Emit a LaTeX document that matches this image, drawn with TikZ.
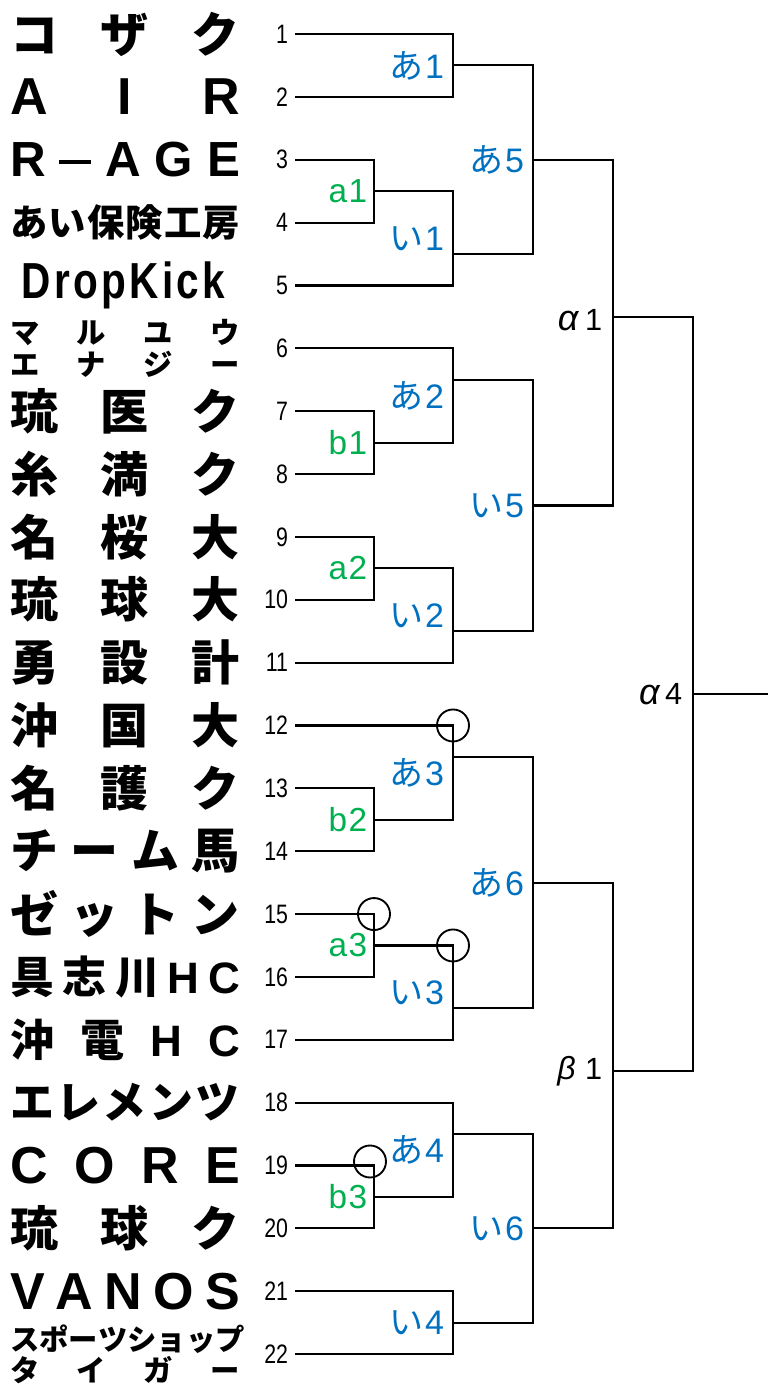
\documentclass[tikz,border=0pt]{standalone}
\usepackage{fontspec}
\setmainfont{Liberation Sans}
\newfontfamily\jp{Noto Sans CJK JP}
\newfontfamily\jpheavy{Noto Sans CJK JP Black}
\newfontfamily\narrow[FakeStretch=0.8]{Liberation Sans}
\usetikzlibrary{calc}
\definecolor{matchblue}{RGB}{0,112,192}
\definecolor{matchgreen}{RGB}{0,176,80}
\newcommand\lat{\normalfont\bfseries}
\newcommand\rowy[1]{34+(#1-1)*62.86}
\newcommand\team[3]{\node[teamname] (name#1) at (125,{\rowy{#1}}) {\fontsize{#2}{#2}\selectfont\makebox[172.5pt][s]{#3}};}
\newcommand\teamtwo[4]{\node[teamname, align=center, font=\jpheavy\fontsize{#2}{23.5pt}\selectfont] (name#1) at (125,{\rowy{#1}}) {\makebox[172.5pt][s]{#3}\\\makebox[172.5pt][s]{#4}};}
\newcommand\entry[1]{\coordinate (t#1) at (295,{\rowy{#1}}); \node[seed] (n#1) at (t#1) {#1};}
\newcommand\blab[2]{{\jp #1}\kern1pt#2}
\newcommand\game[8]{\coordinate (#1) at (#2,{\rowy{#3}}); \node[#5] (#1-lab) at (#2,{\rowy{#4}}) {#6}; \draw[bline] (#7) -| (#1) |- (#8);}

\begin{document}
\begin{tikzpicture}[x=0.75pt, y=-0.75pt,
  bline/.style={line width=1.6pt},
  seed/.style={anchor=east, inner sep=0pt, xshift=-5pt, font=\narrow\fontsize{20pt}{20pt}\selectfont},
  teamname/.style={inner sep=0pt, font=\jpheavy},
  bluelab/.style={anchor=east, inner sep=0pt, xshift=-6.5pt, text=matchblue, font=\fontsize{25.5pt}{25.5pt}\selectfont},
  greenlab/.style={anchor=east, inner sep=0pt, xshift=-5pt, text=matchgreen, font=\fontsize{25pt}{25pt}\selectfont},
  greeklab/.style={anchor=east, inner sep=0pt, xshift=-8pt, font=\fontsize{23pt}{23pt}\selectfont},
  ring/.style={circle, draw, line width=1.4pt, minimum size=24pt, inner sep=0pt}]
\useasboundingbox (0,0) rectangle (768,1384);

% team names
\team{1}{36pt}{コ\hfill ザ\hfill ク}
\team{2}{39pt}{\lat A\hfill I\hfill R}
\team{3}{37pt}{\lat R\hfill \rule[9.5pt]{24pt}{3.2pt}\hfill A\hfill G\hfill E}
\team{4}{28pt}{あ\hfill い\hfill 保\hfill 険\hfill 工\hfill 房}
\team{5}{38pt}{\narrow\bfseries\hspace*{9pt}D\hfill r\hfill o\hfill p\hfill K\hfill i\hfill c\hfill k\hspace*{11pt}}
\teamtwo{6}{22pt}{マ\hfill ル\hfill ユ\hfill ウ}{エ\hfill ナ\hfill ジ\hfill ー}
\team{7}{36pt}{琉\hfill 医\hfill ク}
\team{8}{36pt}{糸\hfill 満\hfill ク}
\team{9}{36pt}{名\hfill 桜\hfill 大}
\team{10}{36pt}{琉\hfill 球\hfill 大}
\team{11}{36pt}{勇\hfill 設\hfill 計}
\team{12}{36pt}{沖\hfill 国\hfill 大}
\team{13}{36pt}{名\hfill 護\hfill ク}
\team{14}{36pt}{チ\hfill ー\hfill ム\hfill 馬}
\team{15}{36pt}{ゼ\hfill ッ\hfill ト\hfill ン}
\team{16}{33pt}{具\hfill 志\hfill 川\hfill {\lat H}\hfill {\lat C}}
\team{17}{33pt}{沖\hfill 電\hfill {\lat H}\hfill {\lat C}}
\team{18}{33pt}{エ\hfill レ\hfill メ\hfill ン\hfill ツ}
\team{19}{39pt}{\lat C\hfill O\hfill R\hfill E}
\team{20}{36pt}{琉\hfill 球\hfill ク}
\team{21}{39pt}{\lat V\hfill A\hfill N\hfill O\hfill S}
\teamtwo{22}{22pt}{ス\hfill ポ\hfill ー\hfill ツ\hfill シ\hfill ョ\hfill ッ\hfill プ}{タ\hfill イ\hfill ガ\hfill ー}

% seed numbers and line starts
\foreach \i in {1,...,22} {\entry{\i}}

% first round
\game{a1}{374}{3.5}{3.5}{greenlab}{a\kern1pt 1}{t3}{t4}
\game{b1}{374}{7.5}{7.5}{greenlab}{b\kern1pt 1}{t7}{t8}
\game{a2}{374}{9.5}{9.5}{greenlab}{a\kern1pt 2}{t9}{t10}
\game{b2}{374}{13.5}{13.5}{greenlab}{b\kern1pt 2}{t13}{t14}
\game{a3}{374}{15.5}{15.5}{greenlab}{a\kern1pt 3}{t15}{t16}
\game{b3}{374}{19.5}{19.5}{greenlab}{b\kern1pt 3}{t19}{t20}
% second round
\game{A1}{453}{1.5}{1.5}{bluelab}{\blab{あ}{1}}{t1}{t2}
\game{I1}{453}{4.5}{4.25}{bluelab}{\blab{い}{1}}{a1}{t5}
\game{A2}{453}{6.5}{6.75}{bluelab}{\blab{あ}{2}}{t6}{b1}
\game{I2}{453}{10.5}{10.25}{bluelab}{\blab{い}{2}}{a2}{t11}
\game{A3}{453}{12.5}{12.75}{bluelab}{\blab{あ}{3}}{t12}{b2}
\game{I3}{453}{16.5}{16.25}{bluelab}{\blab{い}{3}}{a3}{t17}
\game{A4}{453}{18.5}{18.75}{bluelab}{\blab{あ}{4}}{t18}{b3}
\game{I4}{453}{21.5}{21.5}{bluelab}{\blab{い}{4}}{t21}{t22}
% third round
\game{A5}{533}{3}{3}{bluelab}{\blab{あ}{5}}{A1}{I1}
\game{I5}{533}{8.5}{8.5}{bluelab}{\blab{い}{5}}{A2}{I2}
\game{A6}{533}{14.5}{14.5}{bluelab}{\blab{あ}{6}}{A3}{I3}
\game{I6}{533}{20}{20}{bluelab}{\blab{い}{6}}{A4}{I4}
% semi finals and final
\game{al1}{613}{5.5}{5.55}{greeklab}{{\fontsize{27pt}{27pt}\selectfont\itshape α}\hspace{5pt}1}{A5}{I5}
\game{be1}{613}{17.5}{17.5}{greeklab}{{\fontsize{24pt}{24pt}\selectfont\itshape β}\hspace{7pt}1}{A6}{I6}
\game{al4}{693}{11.5}{11.5}{greeklab}{{\fontsize{27pt}{27pt}\selectfont\itshape α}\hspace{4pt}4}{al1}{be1}
\coordinate (final) at (768,{\rowy{11.5}});
\draw[bline] (al4) -- (final);

% marks
\node[ring] (ring1) at (t12 -| A3) {};
\node[ring] (ring2) at (t15 -| a3) {};
\node[ring] (ring3) at (a3 -| I3) {};
\node[ring, xshift=-3pt, yshift=3pt] (ring4) at (t19 -| b3) {};
\end{tikzpicture}
\end{document}
